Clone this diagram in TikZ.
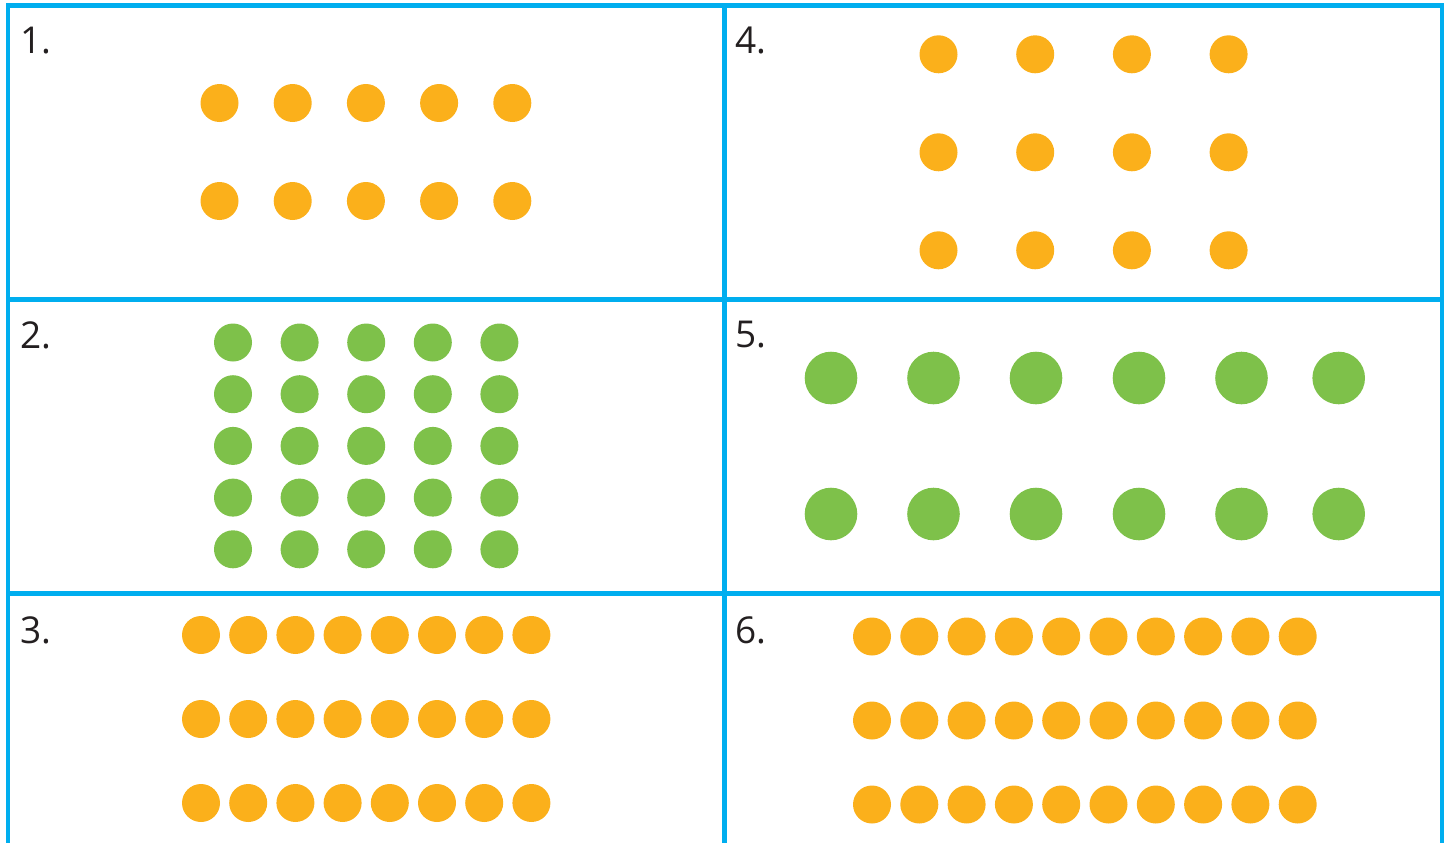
\documentclass[tikz,border=0pt]{standalone}
\usepackage{fontspec}
\setmainfont{Open Sans}
\usepackage{xcolor}
\definecolor{gridblue}{HTML}{00AEEF}
\definecolor{dotorange}{HTML}{FBB01B}
\definecolor{dotgreen}{HTML}{7EC14A}
\definecolor{labgray}{HTML}{231F20}
\tikzset{
  gridline/.style={line width=4.5pt,gridblue},
  numlabel/.style={anchor=base west,inner sep=0pt,labgray,font=\fontsize{37}{40}\selectfont}
}

\begin{document}
\begin{tikzpicture}[x=1pt,y=-1pt]
\useasboundingbox (0,0) rectangle (1451,843);

% grid
\draw[gridline] (8,5.5) -- (1442,5.5);
\draw[gridline] (8,299.5) -- (1442,299.5);
\draw[gridline] (8,593.5) -- (1442,593.5);
\draw[gridline] (8,3.25) -- (8,843);
\draw[gridline] (724.5,3.25) -- (724.5,843);
\draw[gridline] (1442,3.25) -- (1442,843);

% numbers
\node[numlabel] (n1) at (20.5,54) {1.};
\node[numlabel] (n2) at (20.5,348) {2.};
\node[numlabel] (n3) at (20.5,643) {3.};
\node[numlabel] (n4) at (735.5,54) {4.};
\node[numlabel] (n5) at (735.5,347) {5.};
\node[numlabel] (n6) at (735.5,643) {6.};

% 1: 2 rows of 5
\foreach \y in {103,201}
  \foreach \i in {0,...,4}
    \fill[dotorange] (219.5+73.2*\i,\y) circle (19);

% 4: 3 rows of 4
\foreach \y in {54.3,152.3,250.3}
  \foreach \i in {0,...,3}
    \fill[dotorange] (938.5+96.7*\i,\y) circle (19);

% 2: 5 rows of 5
\foreach \j in {0,...,4}
  \foreach \i in {0,...,4}
    \fill[dotgreen] (233+66.6*\i,342.5+51.7*\j) circle (19);

% 5: 2 rows of 6
\foreach \y in {378,514}
  \foreach \x in {831,933.5,1036,1139,1241.5,1338.7}
    \fill[dotgreen] (\x,\y) circle (26.3);

% 3: 3 rows of 8
\foreach \y in {635,719,803}
  \foreach \i in {0,...,7}
    \fill[dotorange] (201+47.2*\i,\y) circle (19);

% 6: 3 rows of 10
\foreach \y in {636.5,720.5,804.5}
  \foreach \i in {0,...,9}
    \fill[dotorange] (872+47.3*\i,\y) circle (19);
\end{tikzpicture}
\end{document}
